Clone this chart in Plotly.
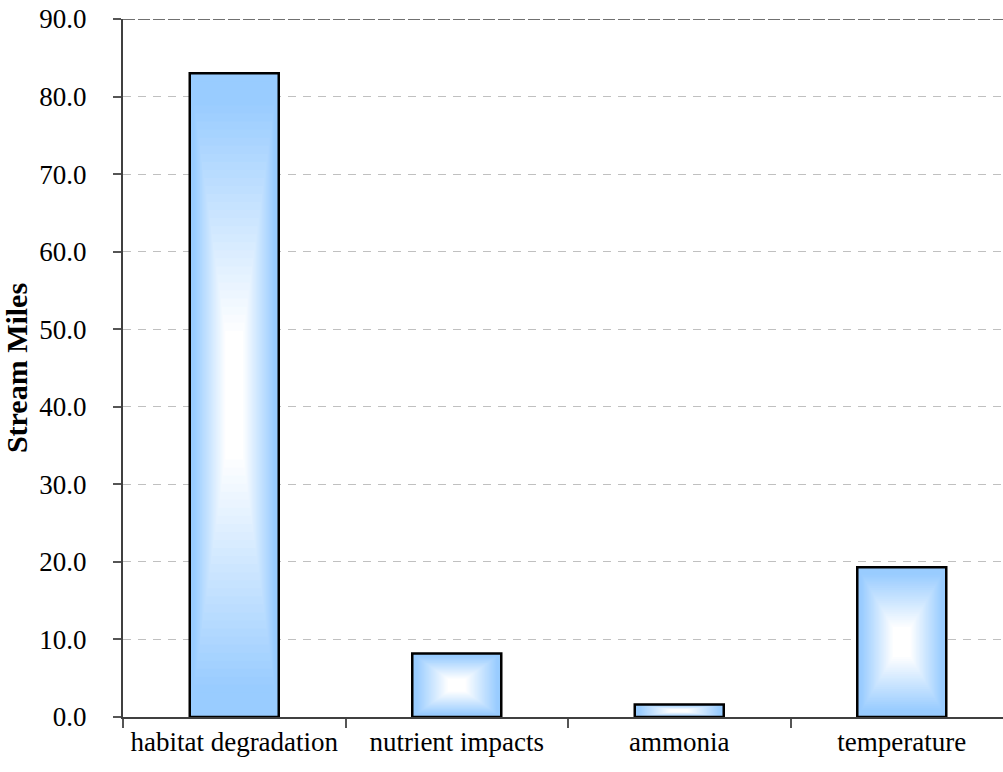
import plotly.graph_objects as go

# Stream miles impaired, by cause
categories = ["habitat degradation", "nutrient impacts", "ammonia", "temperature"]
stream_miles = [83.0, 8.2, 1.6, 19.3]

y_ticks = [0, 10, 20, 30, 40, 50, 60, 70, 80, 90]

BAR_WIDTH = 0.4
EDGE_RGB = (153, 204, 255)   # #99CCFF
CENTER_RGB = (255, 255, 255)
N_LAYERS = 40


def blend(t):
    # outer band stays at the edge colour, then fades towards white at the centre
    s = min(max((t - 0.08) / 0.72, 0.0), 1.0)
    r, g, b = (round(e + (c - e) * s) for e, c in zip(EDGE_RGB, CENTER_RGB))
    return f"rgb({r},{g},{b})"


fig = go.Figure()

# "from centre" gradient fill: nested rectangles shrinking towards each bar's middle
for k in range(N_LAYERS):
    f = k / N_LAYERS
    fig.add_trace(go.Bar(
        x=categories,
        y=[v * (1 - f) for v in stream_miles],
        base=[v * f / 2 for v in stream_miles],
        width=BAR_WIDTH * (1 - f),
        marker=dict(color=blend(f), line=dict(width=0)),
        showlegend=False,
        hoverinfo="skip",
    ))

# bar outlines
fig.add_trace(go.Bar(
    x=categories,
    y=stream_miles,
    width=BAR_WIDTH,
    marker=dict(color="rgba(0,0,0,0)", line=dict(color="#000000", width=2.5)),
    showlegend=False,
    hovertemplate="%{x}: %{y:.1f}<extra></extra>",
))

font_family = "Liberation Serif"

fig.update_layout(
    width=1003,
    height=772,
    margin=dict(l=123, r=0, t=19, b=55),
    paper_bgcolor="white",
    plot_bgcolor="white",
    barmode="overlay",
    font=dict(family=font_family, size=27, color="black"),
    xaxis=dict(
        type="category",
        range=[-0.5, 3.455],
        tickson="boundaries",
        ticks="outside",
        ticklen=9,
        tickwidth=1.5,
        tickcolor="#555555",
        showline=True,
        linecolor="#404040",
        linewidth=2,
        showgrid=False,
        tickfont=dict(family=font_family, size=27, color="black"),
    ),
    yaxis=dict(
        range=[0, 90],
        tickvals=y_ticks,
        ticktext=[f"{v:.1f}" for v in y_ticks],
        ticks="outside",
        ticklen=8,
        tickwidth=1.5,
        tickcolor="#555555",
        ticklabelstandoff=21,
        showline=True,
        linecolor="#404040",
        linewidth=2,
        showgrid=True,
        gridcolor="#c0c0c0",
        gridwidth=1,
        griddash="8px,7px",
        zeroline=False,
        tickfont=dict(family=font_family, size=27, color="black"),
        title=dict(
            text="<b>Stream Miles</b>",
            font=dict(family=font_family, size=30, color="black"),
            standoff=3,
        ),
    ),
    shapes=[
        dict(
            type="line", xref="paper", yref="y",
            x0=0, x1=1, y0=y_ticks[-1], y1=y_ticks[-1],
            line=dict(color="#707070", width=2, dash="12px,3px"),
            layer="above",
        )
    ],
)

fig.write_html("out.html")
